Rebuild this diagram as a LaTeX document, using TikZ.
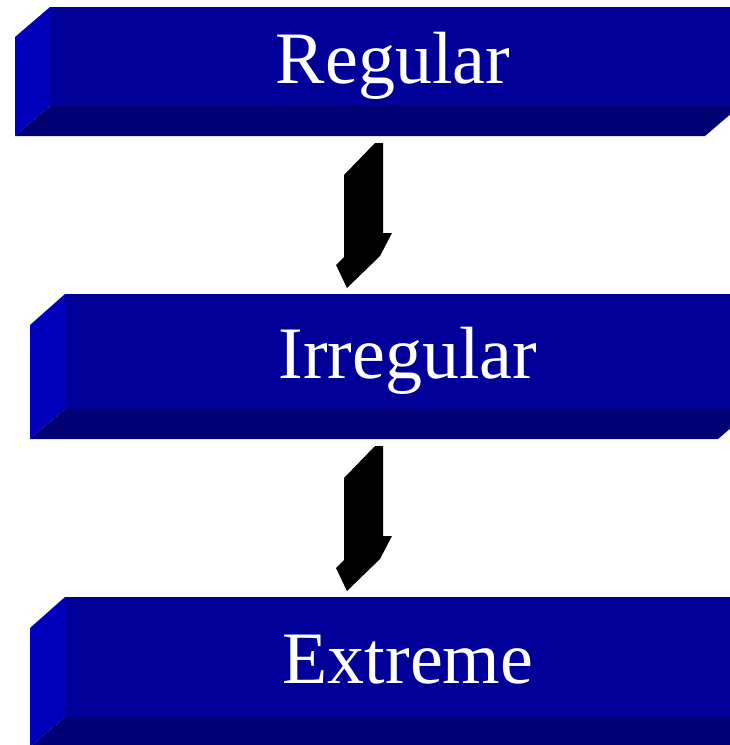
\documentclass[tikz,border=0pt]{standalone}
\usepackage{fontspec}
\setmainfont{Liberation Serif}
\definecolor{frontblue}{HTML}{000099}
\definecolor{sideblue}{HTML}{0000BB}
\definecolor{floorblue}{HTML}{000072}
\begin{document}
\begin{tikzpicture}[x=1pt,y=-1pt,
  frontface/.style={fill=frontblue},
  sideface/.style={fill=sideblue},
  floorface/.style={fill=floorblue},
  label/.style={text=white,font=\fontsize{74}{80}\selectfont,anchor=base,inner sep=0pt},
  arrowshape/.style={fill=black}]
\useasboundingbox (0,0) rectangle (730,745);
% box 1
\fill[frontface] (50,7) rectangle (740,106);
\fill[sideface] (15,37) -- (50,7) -- (50,106) -- (15,136) -- cycle;
\fill[floorface] (15,136) -- (50,106) -- (740,106) -- (705,136) -- cycle;
% box 2
\fill[frontface] (65,294) rectangle (753,409);
\fill[sideface] (30,325) -- (65,294) -- (65,409) -- (30,439) -- cycle;
\fill[floorface] (30,439) -- (65,409) -- (753,409) -- (718,439) -- cycle;
% box 3
\fill[frontface] (65,597) rectangle (765,717);
\fill[sideface] (30,628) -- (65,597) -- (65,717) -- (30,747) -- cycle;
\fill[floorface] (30,747) -- (65,717) -- (765,717) -- (730,747) -- cycle;
% labels
\node[label] (r) at (393,83) {Regular};
\node[label] (i) at (408,378) {Irregular};
\node[label] (e) at (408,683) {Extreme};
% arrows
\foreach \dy in {0,303}{
  \fill[arrowshape,yshift=-\dy] (375,143) -- (383,143) -- (383,233) -- (392,233) -- (380,256)
    -- (347,288) -- (336,265) -- (344,257) -- (344,175) -- cycle;
}
\end{tikzpicture}
\end{document}
